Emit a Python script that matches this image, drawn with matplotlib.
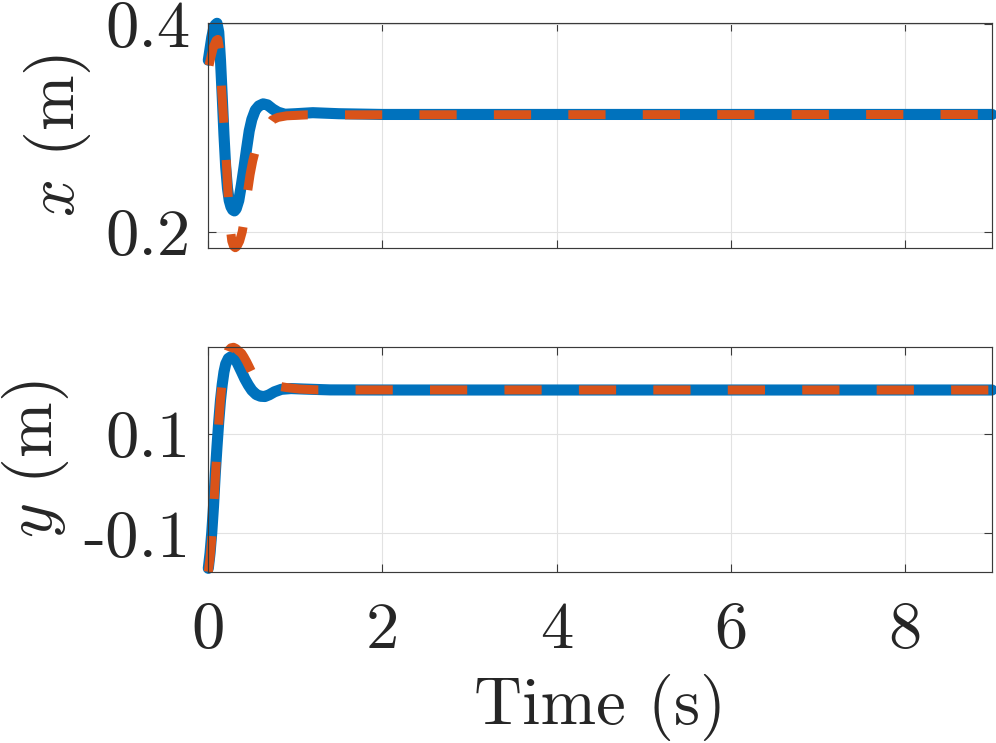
import matplotlib
matplotlib.use('Agg')
import matplotlib.pyplot as plt
import numpy as np

plt.rcParams.update({
    'font.family': 'serif',
    'font.serif': ['cmr10'],
    'mathtext.fontset': 'cm',
    'axes.unicode_minus': False,
    'axes.formatter.use_mathtext': True,
})

# ---------------- data ----------------
t_x_ref = [0.00, 0.02, 0.04, 0.06, 0.08, 0.10, 0.12, 0.14, 0.16, 0.18, 0.20, 0.22, 0.24,
           0.26, 0.28, 0.30, 0.32, 0.35, 0.38, 0.41, 0.44, 0.47, 0.50, 0.54, 0.58, 0.63,
           0.68, 0.74, 0.80, 0.88, 1.00, 1.20, 1.50, 2.00, 9.00]
x_ref = [0.365, 0.376, 0.387, 0.395, 0.399, 0.4005, 0.392, 0.365, 0.330, 0.293, 0.262, 0.242,
         0.230, 0.224, 0.221, 0.220, 0.222, 0.230, 0.245, 0.262, 0.280, 0.297, 0.308, 0.317,
         0.321, 0.323, 0.322, 0.318, 0.315, 0.313, 0.3135, 0.3145, 0.3135, 0.3128, 0.3128]

t_x_act = [0.00, 0.03, 0.06, 0.09, 0.11, 0.13, 0.15, 0.17, 0.19, 0.21, 0.23, 0.25, 0.27,
           0.29, 0.31, 0.33, 0.36, 0.39, 0.42, 0.45, 0.48, 0.51, 0.54, 0.58, 0.63, 0.68,
           0.735, 0.80, 0.90, 1.13, 9.00]
x_act = [0.357, 0.368, 0.378, 0.384, 0.385, 0.375, 0.340, 0.315, 0.292, 0.262, 0.232, 0.205,
         0.191, 0.186, 0.1846, 0.186, 0.191, 0.200, 0.215, 0.238, 0.255, 0.268, 0.278, 0.287,
         0.294, 0.301, 0.3076, 0.310, 0.3115, 0.3124, 0.3128]

t_y_ref = [0.00, 0.02, 0.04, 0.06, 0.08, 0.10, 0.12, 0.14, 0.16, 0.18, 0.20, 0.23, 0.26,
           0.29, 0.32, 0.35, 0.38, 0.42, 0.46, 0.50, 0.55, 0.60, 0.65, 0.70, 0.76, 0.84,
           0.95, 1.10, 1.40, 2.00, 9.00]
y_ref = [-0.1705, -0.140, -0.098, -0.045, 0.020, 0.075, 0.125, 0.168, 0.200, 0.225, 0.241,
         0.252, 0.2555, 0.2545, 0.248, 0.237, 0.226, 0.211, 0.1985, 0.188, 0.1795, 0.176,
         0.1755, 0.179, 0.185, 0.190, 0.1915, 0.1905, 0.1888, 0.1886, 0.1886]

t_y_act = [0.00, 0.02, 0.04, 0.06, 0.08, 0.10, 0.12, 0.14, 0.16, 0.18, 0.20, 0.23, 0.26,
           0.29, 0.32, 0.35, 0.383, 0.41, 0.44, 0.47, 0.506, 0.55, 0.60, 0.66, 0.72, 0.78,
           0.90, 1.05, 1.26, 9.00]
y_act = [-0.1773, -0.150, -0.110, -0.055, 0.010, 0.068, 0.122, 0.170, 0.207, 0.235, 0.254,
         0.268, 0.2735, 0.2746, 0.272, 0.267, 0.2625, 0.255, 0.2456, 0.235, 0.222, 0.210,
         0.201, 0.197, 0.1965, 0.197, 0.1935, 0.1905, 0.1888, 0.1886]

x_ticks = [0, 2, 4, 6, 8]
x_tick_labels = ['0', '2', '4', '6', '8']
top_yticks = [0.2, 0.4]
top_ytick_labels = ['0.2', '0.4']
bot_yticks = [-0.1, 0.1]
bot_ytick_labels = ['-0.1', '0.1']

BLUE = '#0072BD'
ORANGE = '#D95319'
AXC = '#262626'
FS = 48

fig = plt.figure(figsize=(9.96, 7.43), dpi=100)
W, H = 996.0, 743.0
def rect(l, t, r, b):
    return [l / W, 1 - b / H, (r - l) / W, (b - t) / H]

ax1 = fig.add_axes(rect(208.3, 23.3, 992.0, 247.7))
ax2 = fig.add_axes(rect(208.3, 347.3, 992.0, 571.7))

def style(ax, ylim, yt, ytl, show_x):
    ax.set_xlim(0, 9)
    ax.set_ylim(*ylim)
    ax.set_xticks(x_ticks)
    ax.set_yticks(yt)
    ax.set_yticklabels(ytl)
    if show_x:
        ax.set_xticklabels(x_tick_labels)
    else:
        ax.set_xticklabels([])
    ax.grid(True, color='#e2e2e2', linewidth=0.8)
    ax.set_axisbelow(True)
    for s in ax.spines.values():
        s.set_color('#3a3a3a')
        s.set_linewidth(0.85)
        s.set_zorder(5)
    ax.tick_params(axis='both', direction='in', length=5.8, width=0.8, color='#3a3a3a',
                   top=True, right=True, labelsize=FS, labelcolor=AXC)
    ax.tick_params(axis='y', pad=12.5)
    ax.tick_params(axis='x', pad=21.5)

style(ax1, (0.1846, 0.4005), top_yticks, top_ytick_labels, False)
style(ax2, (-0.1773, 0.2746), bot_yticks, bot_ytick_labels, True)

LW_B = 8.0
LW_O = 6.5
DASH_PTS = 26.8

def dash_offset(ax, t, v, target_px):
    pts = ax.transData.transform(np.column_stack([t, v]))
    seg = np.hypot(np.diff(pts[:, 0]), np.diff(pts[:, 1]))
    cum = np.concatenate([[0], np.cumsum(seg)])
    s0 = np.interp(target_px, pts[:, 0], cum)
    s0_pts = s0 * 72.0 / fig.dpi
    P = 2 * DASH_PTS
    o = (-s0_pts) % P
    return o / LW_O

def draw(ax, t1, v1, t2, v2, target):
    ax.plot(t1, v1, color=BLUE, lw=LW_B, solid_capstyle='round', solid_joinstyle='round',
            clip_on=False, zorder=3)
    off = dash_offset(ax, t2, v2, target)
    ax.plot(t2, v2, color=ORANGE, lw=LW_O, dash_capstyle='butt', dash_joinstyle='round',
            linestyle=(off, (DASH_PTS / LW_O, DASH_PTS / LW_O)), clip_on=False, zorder=4)

draw(ax1, t_x_ref, x_ref, t_x_act, x_act, 345.0)
draw(ax2, t_y_ref, y_ref, t_y_act, y_act, 430.0)

ax1.set_ylabel('$x$ (m)', fontsize=FS, color=AXC, labelpad=9)
ax2.set_ylabel('$y$ (m)', fontsize=FS, color=AXC, labelpad=9)
ax2.set_xlabel('Time (s)', fontsize=FS, color=AXC, labelpad=9.5)

fig.savefig('out.png', dpi=100)
